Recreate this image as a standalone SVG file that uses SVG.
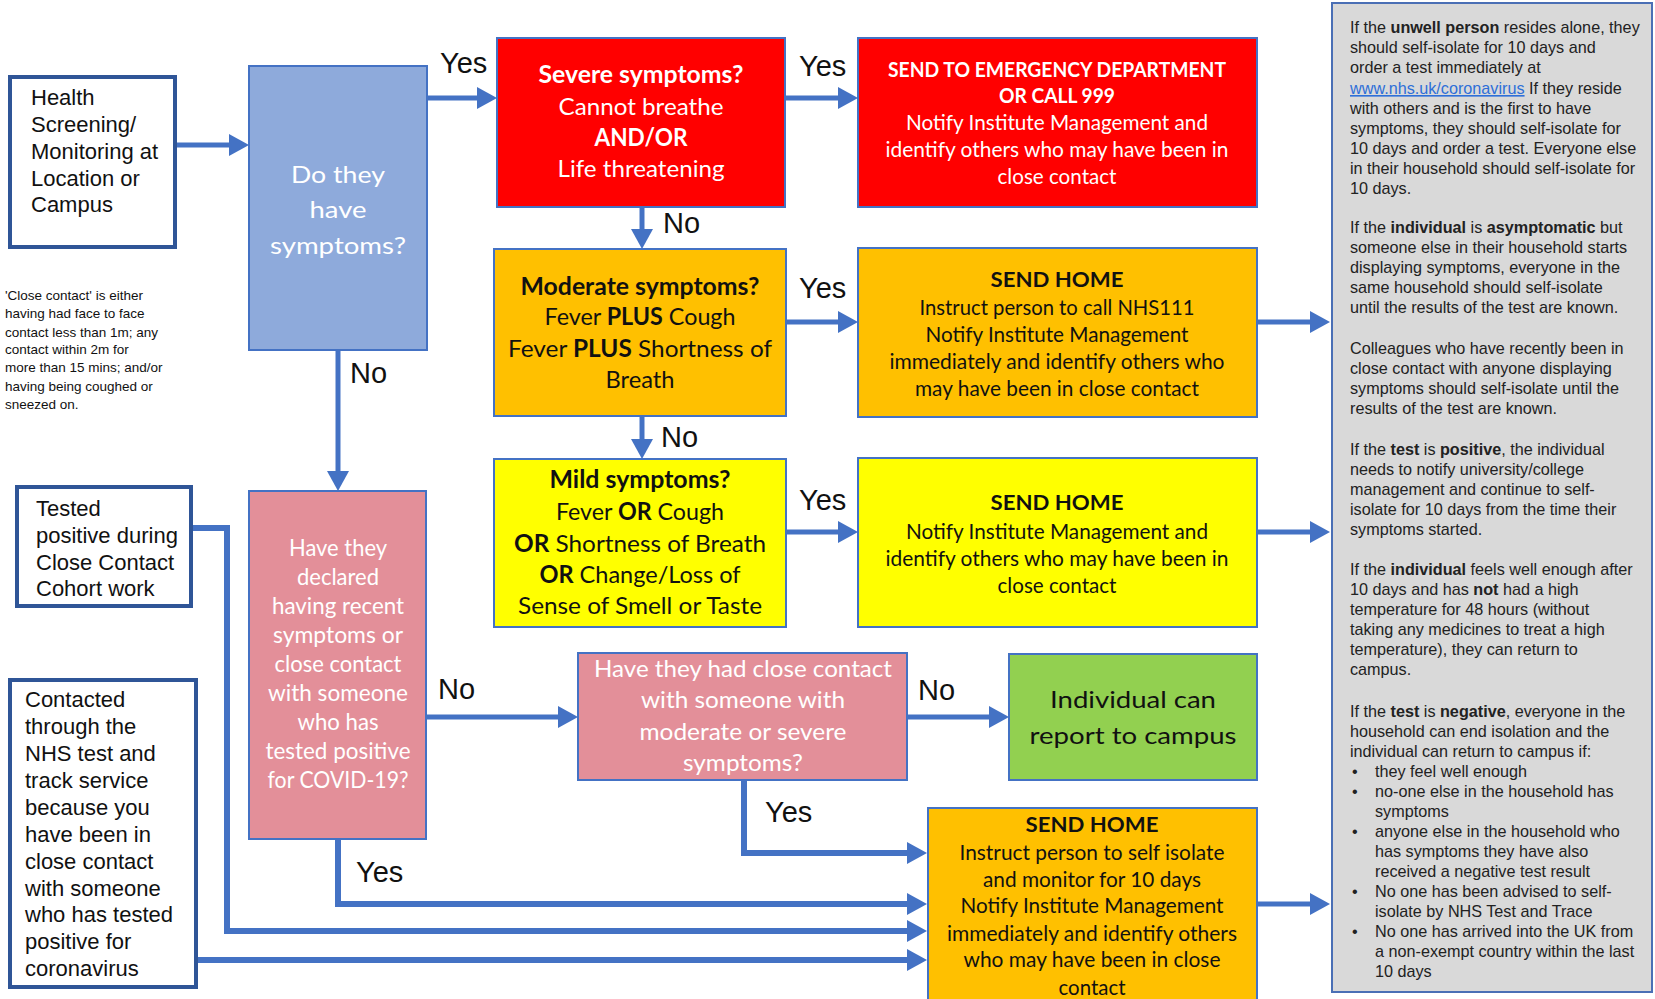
<svg xmlns="http://www.w3.org/2000/svg" width="1655" height="999" viewBox="0 0 1655 999">
<style>
.plain{fill:#fff;stroke:#2f5597;stroke-width:4}
.node{stroke:#4472c4;stroke-width:2}
.conn{fill:none;stroke:#4472c4;stroke-width:5}
.thick{stroke-width:6}
.lbl{font-family:"Liberation Sans",Arial,sans-serif;font-size:29px;fill:#111}
.arial{font-family:"Liberation Sans",Arial,sans-serif;fill:#111}
.c{font-family:Lato,"Open Sans",sans-serif;text-anchor:middle;font-size:24px}
.s{font-size:21.5px}
.w{fill:#fff}
.k{fill:#111}
.b{font-weight:bold}
.panel{font-family:"Liberation Sans",Arial,sans-serif;font-size:16.2px;fill:#222}
.link{fill:#2e6fd8;text-decoration:underline}
</style>
<defs>
<marker id="ah" markerUnits="userSpaceOnUse" markerWidth="20" markerHeight="22" viewBox="0 0 20 22" refX="0" refY="11" orient="auto">
<path d="M0,0 L20,11 L0,22 z" fill="#4472c4"/>
</marker>
</defs>
<rect width="1655" height="999" fill="#fff"/>

<g id="connectors">
<path class="conn" d="M177,145 H229" marker-end="url(#ah)"/>
<path class="conn" d="M427,98 H477" marker-end="url(#ah)"/>
<path class="conn" d="M785,98 H838" marker-end="url(#ah)"/>
<path class="conn" d="M642,207 V229" marker-end="url(#ah)"/>
<path class="conn" d="M786,322 H838" marker-end="url(#ah)"/>
<path class="conn" d="M642,416 V439" marker-end="url(#ah)"/>
<path class="conn" d="M786,532 H838" marker-end="url(#ah)"/>
<path class="conn" d="M1257,322 H1310" marker-end="url(#ah)"/>
<path class="conn" d="M1257,532 H1310" marker-end="url(#ah)"/>
<path class="conn" d="M1257,904 H1310" marker-end="url(#ah)"/>
<path class="conn" d="M338,350 V471" marker-end="url(#ah)"/>
<path class="conn" d="M426,717 H558" marker-end="url(#ah)"/>
<path class="conn" d="M907,717 H989" marker-end="url(#ah)"/>
<path class="conn thick" d="M744,780 V853 H907" marker-end="url(#ah)"/>
<path class="conn thick" d="M338,839 V904 H907" marker-end="url(#ah)"/>
<path class="conn thick" d="M192,528 H227 V931 H907" marker-end="url(#ah)"/>
<path class="conn thick" d="M197,960 H907" marker-end="url(#ah)"/>
<text class="lbl" x="440" y="73">Yes</text>
<text class="lbl" x="799" y="76">Yes</text>
<text class="lbl" x="663" y="233">No</text>
<text class="lbl" x="799" y="298">Yes</text>
<text class="lbl" x="661" y="447">No</text>
<text class="lbl" x="799" y="510">Yes</text>
<text class="lbl" x="350" y="383">No</text>
<text class="lbl" x="438" y="699">No</text>
<text class="lbl" x="918" y="700">No</text>
<text class="lbl" x="765" y="822">Yes</text>
<text class="lbl" x="356" y="882">Yes</text>
</g>

<g id="health">
<rect class="plain" x="10" y="77" width="165" height="170"/>
<text class="arial" font-size="22"><tspan x="31" y="105">Health</tspan><tspan x="31" y="132">Screening/</tspan><tspan x="31" y="159">Monitoring at</tspan><tspan x="31" y="186">Location or</tspan><tspan x="31" y="212">Campus</tspan></text>
</g>

<g id="note">
<text class="arial" font-size="13.5"><tspan x="5" y="300">'Close contact' is either</tspan><tspan x="5" y="318">having had face to face</tspan><tspan x="5" y="337">contact less than 1m; any</tspan><tspan x="5" y="354">contact within 2m for</tspan><tspan x="5" y="372">more than 15 mins; and/or</tspan><tspan x="5" y="391">having being coughed or</tspan><tspan x="5" y="409">sneezed on.</tspan></text>
</g>

<g id="dothey">
<rect class="node" x="249" y="66" width="178" height="284" fill="#8eaadb"/>
<g class="c w" font-size="31" lengthAdjust="spacingAndGlyphs">
<text x="338" y="183" textLength="94" lengthAdjust="spacingAndGlyphs">Do they</text>
<text x="338" y="218" textLength="57" lengthAdjust="spacingAndGlyphs">have</text>
<text x="338" y="254" textLength="136" lengthAdjust="spacingAndGlyphs">symptoms?</text>
</g>
</g>

<g id="severe">
<rect class="node" x="497" y="38" width="288" height="169" fill="#ff0000"/>
<g class="c w">
<text x="641" y="83" class="b" textLength="205" lengthAdjust="spacingAndGlyphs">Severe symptoms?</text>
<text x="641" y="115" textLength="165" lengthAdjust="spacingAndGlyphs">Cannot breathe</text>
<text x="641" y="146" class="b" textLength="93" lengthAdjust="spacingAndGlyphs">AND/OR</text>
<text x="641" y="177" textLength="167" lengthAdjust="spacingAndGlyphs">Life threatening</text>
</g>
</g>

<g id="emergency">
<rect class="node" x="858" y="38" width="399" height="169" fill="#ff0000"/>
<g class="c s w">
<text x="1057" y="77" class="b" textLength="338" lengthAdjust="spacingAndGlyphs">SEND TO EMERGENCY DEPARTMENT</text>
<text x="1057" y="103" class="b" textLength="116" lengthAdjust="spacingAndGlyphs">OR CALL 999</text>
<text x="1057" y="130" textLength="302" lengthAdjust="spacingAndGlyphs">Notify Institute Management and</text>
<text x="1057" y="157" textLength="343" lengthAdjust="spacingAndGlyphs">identify others who may have been in</text>
<text x="1057" y="184" textLength="119" lengthAdjust="spacingAndGlyphs">close contact</text>
</g>
</g>

<g id="moderate">
<rect class="node" x="494" y="249" width="292" height="167" fill="#ffc000"/>
<g class="c k">
<text x="640" y="295" class="b" textLength="239" lengthAdjust="spacingAndGlyphs">Moderate symptoms?</text>
<text x="640" y="325" textLength="191" lengthAdjust="spacingAndGlyphs">Fever <tspan class="b">PLUS</tspan> Cough</text>
<text x="640" y="357" textLength="264" lengthAdjust="spacingAndGlyphs">Fever <tspan class="b">PLUS</tspan>  Shortness  of</text>
<text x="640" y="388" textLength="69" lengthAdjust="spacingAndGlyphs">Breath</text>
</g>
</g>

<g id="sendhome1">
<rect class="node" x="858" y="248" width="399" height="169" fill="#ffc000"/>
<g class="c s k">
<text x="1057" y="287" class="b" textLength="133" lengthAdjust="spacingAndGlyphs">SEND HOME</text>
<text x="1057" y="315" textLength="275" lengthAdjust="spacingAndGlyphs">Instruct person to call NHS111</text>
<text x="1057" y="342" textLength="263" lengthAdjust="spacingAndGlyphs">Notify Institute Management</text>
<text x="1057" y="369" textLength="335" lengthAdjust="spacingAndGlyphs">immediately and identify others who</text>
<text x="1057" y="396" textLength="284" lengthAdjust="spacingAndGlyphs">may have been in close contact</text>
</g>
</g>

<g id="mild">
<rect class="node" x="494" y="459" width="292" height="168" fill="#ffff00"/>
<g class="c k">
<text x="640" y="488" class="b" textLength="181" lengthAdjust="spacingAndGlyphs">Mild symptoms?</text>
<text x="640" y="520" textLength="168" lengthAdjust="spacingAndGlyphs">Fever <tspan class="b">OR</tspan> Cough</text>
<text x="640" y="552" textLength="252" lengthAdjust="spacingAndGlyphs"><tspan class="b">OR</tspan>  Shortness of Breath</text>
<text x="640" y="583" textLength="201" lengthAdjust="spacingAndGlyphs"><tspan class="b">OR</tspan> Change/Loss of</text>
<text x="640" y="614" textLength="244" lengthAdjust="spacingAndGlyphs">Sense of Smell or Taste</text>
</g>
</g>

<g id="sendhome2">
<rect class="node" x="858" y="458" width="399" height="169" fill="#ffff00"/>
<g class="c s k">
<text x="1057" y="510" class="b" textLength="133" lengthAdjust="spacingAndGlyphs">SEND HOME</text>
<text x="1057" y="539" textLength="302" lengthAdjust="spacingAndGlyphs">Notify Institute Management and</text>
<text x="1057" y="566" textLength="343" lengthAdjust="spacingAndGlyphs">identify others who may have been in</text>
<text x="1057" y="593" textLength="119" lengthAdjust="spacingAndGlyphs">close contact</text>
</g>
</g>

<g id="declared">
<rect class="node" x="249" y="491" width="177" height="348" fill="#e38f99"/>
<g class="c w" font-size="23.5">
<text x="338" y="556" textLength="98" lengthAdjust="spacingAndGlyphs">Have they</text>
<text x="338" y="585" textLength="82" lengthAdjust="spacingAndGlyphs">declared</text>
<text x="338" y="614" textLength="132" lengthAdjust="spacingAndGlyphs">having recent</text>
<text x="338" y="643" textLength="130" lengthAdjust="spacingAndGlyphs">symptoms or</text>
<text x="338" y="672" textLength="127" lengthAdjust="spacingAndGlyphs">close contact</text>
<text x="338" y="701" textLength="140" lengthAdjust="spacingAndGlyphs">with someone</text>
<text x="338" y="730" textLength="81" lengthAdjust="spacingAndGlyphs">who has</text>
<text x="338" y="759" textLength="145" lengthAdjust="spacingAndGlyphs">tested positive</text>
<text x="338" y="788" textLength="141" lengthAdjust="spacingAndGlyphs">for COVID-19?</text>
</g>
</g>

<g id="closecontact">
<rect class="node" x="578" y="653" width="329" height="127" fill="#e38f99"/>
<g class="c w">
<text x="743" y="677" textLength="298" lengthAdjust="spacingAndGlyphs">Have they had close contact</text>
<text x="743" y="708" textLength="204" lengthAdjust="spacingAndGlyphs">with someone  with</text>
<text x="743" y="740" textLength="207" lengthAdjust="spacingAndGlyphs">moderate or severe</text>
<text x="743" y="771" textLength="120" lengthAdjust="spacingAndGlyphs">symptoms?</text>
</g>
</g>

<g id="report">
<rect class="node" x="1009" y="654" width="248" height="126" fill="#92d050"/>
<g class="c k" font-size="31">
<text x="1133" y="708" textLength="166" lengthAdjust="spacingAndGlyphs">Individual can</text>
<text x="1133" y="744" textLength="207" lengthAdjust="spacingAndGlyphs">report to campus</text>
</g>
</g>

<g id="sendhome3">
<rect class="node" x="928" y="808" width="329" height="200" fill="#ffc000"/>
<g class="c s k">
<text x="1092" y="832" class="b" textLength="133" lengthAdjust="spacingAndGlyphs">SEND HOME</text>
<text x="1092" y="860" textLength="265" lengthAdjust="spacingAndGlyphs">Instruct person to self isolate</text>
<text x="1092" y="887" textLength="218" lengthAdjust="spacingAndGlyphs">and monitor for 10 days</text>
<text x="1092" y="913" textLength="263" lengthAdjust="spacingAndGlyphs">Notify Institute Management</text>
<text x="1092" y="941" textLength="290" lengthAdjust="spacingAndGlyphs">immediately and identify others</text>
<text x="1092" y="967" textLength="257" lengthAdjust="spacingAndGlyphs">who may have been in close</text>
<text x="1092" y="995" textLength="67" lengthAdjust="spacingAndGlyphs">contact</text>
</g>
</g>

<g id="tested">
<rect class="plain" x="17" y="487" width="174" height="119"/>
<text class="arial" font-size="22"><tspan x="36" y="516">Tested</tspan><tspan x="36" y="543">positive during</tspan><tspan x="36" y="570">Close Contact</tspan><tspan x="36" y="596">Cohort work</tspan></text>
</g>

<g id="contacted">
<rect class="plain" x="10" y="680" width="186" height="307"/>
<text class="arial" font-size="22"><tspan x="25" y="707">Contacted</tspan><tspan x="25" y="734">through the</tspan><tspan x="25" y="761">NHS test and</tspan><tspan x="25" y="788">track service</tspan><tspan x="25" y="815">because you</tspan><tspan x="25" y="842">have been in</tspan><tspan x="25" y="869">close contact</tspan><tspan x="25" y="896">with someone</tspan><tspan x="25" y="922">who has tested</tspan><tspan x="25" y="949">positive for</tspan><tspan x="25" y="976">coronavirus</tspan></text>
</g>

<g id="guidance">
<rect x="1332" y="3" width="320" height="989" fill="#d9d9d9" stroke="#4a6fb5" stroke-width="2"/>
<text class="panel">
<tspan x="1350" y="33">If the <tspan class="b">unwell person</tspan> resides alone, they</tspan>
<tspan x="1350" y="53">should self-isolate for 10 days and</tspan>
<tspan x="1350" y="73">order a test immediately at</tspan>
<tspan x="1350" y="94"><tspan class="link">www.nhs.uk/coronavirus</tspan>  If they reside</tspan>
<tspan x="1350" y="114">with others and is the first to have</tspan>
<tspan x="1350" y="134">symptoms, they should self-isolate for</tspan>
<tspan x="1350" y="154">10 days and order a test. Everyone else</tspan>
<tspan x="1350" y="174">in their household should self-isolate for</tspan>
<tspan x="1350" y="194">10 days.</tspan>
<tspan x="1350" y="233">If the <tspan class="b">individual</tspan> is <tspan class="b">asymptomatic</tspan> but</tspan>
<tspan x="1350" y="253">someone else in their household starts</tspan>
<tspan x="1350" y="273">displaying symptoms, everyone in the</tspan>
<tspan x="1350" y="293">same household should self-isolate</tspan>
<tspan x="1350" y="313">until the results of the test are known.</tspan>
<tspan x="1350" y="354">Colleagues who have recently been in</tspan>
<tspan x="1350" y="374">close contact with anyone displaying</tspan>
<tspan x="1350" y="394">symptoms should self-isolate until the</tspan>
<tspan x="1350" y="414">results of the test are known.</tspan>
<tspan x="1350" y="455">If the <tspan class="b">test</tspan> is <tspan class="b">positive</tspan>, the individual</tspan>
<tspan x="1350" y="475">needs to notify university/college</tspan>
<tspan x="1350" y="495">management and continue to self-</tspan>
<tspan x="1350" y="515">isolate for 10 days from the time their</tspan>
<tspan x="1350" y="535">symptoms started.</tspan>
<tspan x="1350" y="575">If the <tspan class="b">individual</tspan> feels well enough after</tspan>
<tspan x="1350" y="595">10 days and has <tspan class="b">not</tspan> had a high</tspan>
<tspan x="1350" y="615">temperature for 48 hours (without</tspan>
<tspan x="1350" y="635">taking any medicines to treat a high</tspan>
<tspan x="1350" y="655">temperature), they can return to</tspan>
<tspan x="1350" y="675">campus.</tspan>
<tspan x="1350" y="717">If the <tspan class="b">test</tspan> is <tspan class="b">negative</tspan>, everyone in the</tspan>
<tspan x="1350" y="737">household can end isolation and the</tspan>
<tspan x="1350" y="757">individual can return to campus if:</tspan>
<tspan x="1352" y="777">•</tspan><tspan x="1375" y="777">they feel well enough</tspan>
<tspan x="1352" y="797">•</tspan><tspan x="1375" y="797">no-one else in the household has</tspan>
<tspan x="1375" y="817">symptoms</tspan>
<tspan x="1352" y="837">•</tspan><tspan x="1375" y="837">anyone else in the household who</tspan>
<tspan x="1375" y="857">has symptoms they have also</tspan>
<tspan x="1375" y="877">received a negative test result</tspan>
<tspan x="1352" y="897">•</tspan><tspan x="1375" y="897">No one has been advised to self-</tspan>
<tspan x="1375" y="917">isolate by NHS Test and Trace</tspan>
<tspan x="1352" y="937">•</tspan><tspan x="1375" y="937">No one has arrived into the UK from</tspan>
<tspan x="1375" y="957">a non-exempt country within the last</tspan>
<tspan x="1375" y="977">10 days</tspan>
</text>
</g>
</svg>
